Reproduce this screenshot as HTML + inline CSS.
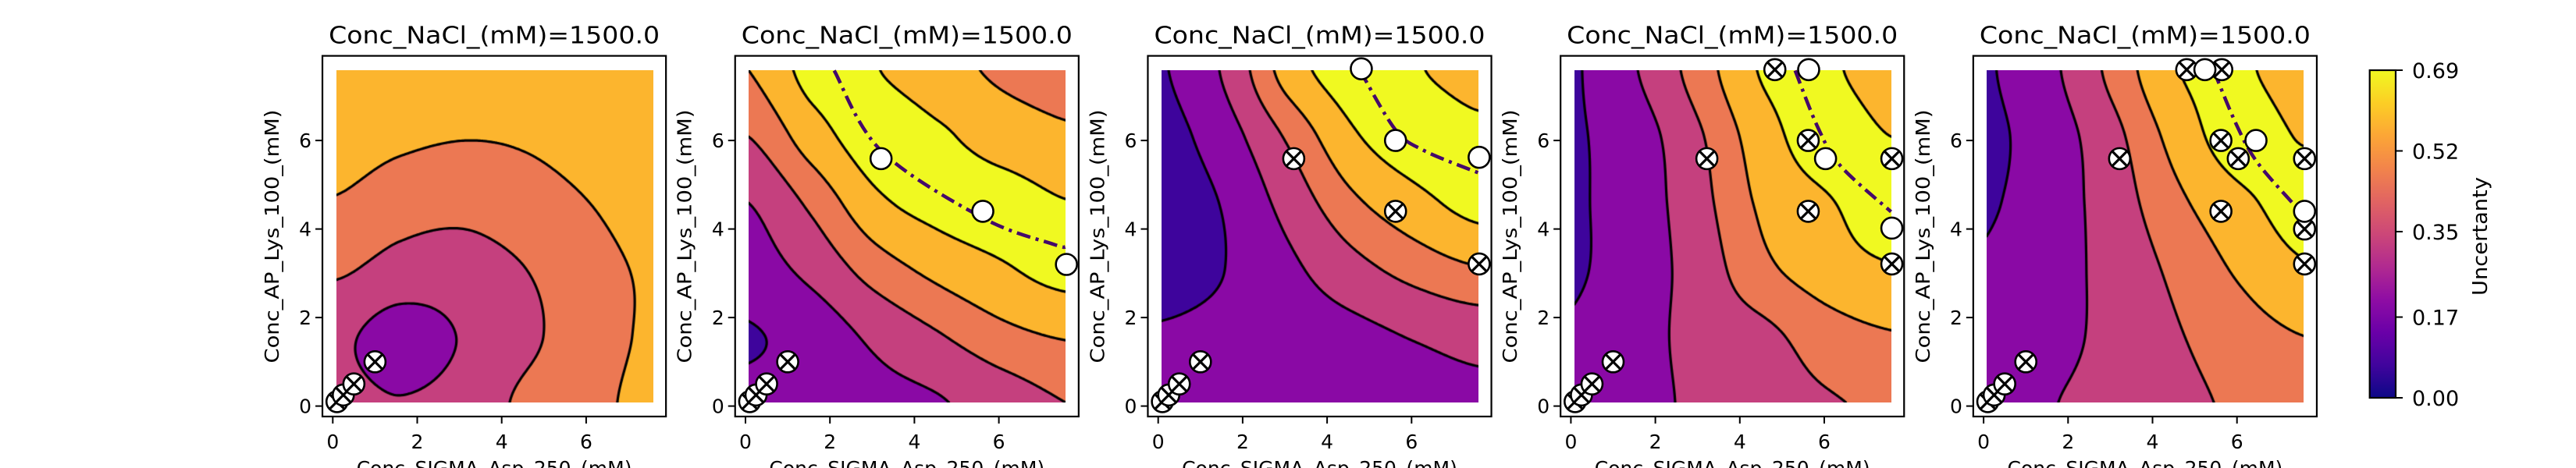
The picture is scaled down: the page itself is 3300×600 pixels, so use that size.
<!DOCTYPE html>
<html><head><meta charset="utf-8"><style>
html,body{margin:0;padding:0;background:#fff;}
#root{position:relative;width:3300px;height:600px;overflow:hidden;background:#fff;font-family:"DejaVu Sans","Liberation Sans",sans-serif;}
canvas{position:absolute;}
svg{position:absolute;left:0;top:0;}
</style></head><body>
<div id="root">
<svg id="ov" width="3300" height="600"></svg>
</div>
<script>
// ---- data ----
const gridCoords=[0.08,1.58,3.08,4.58,6.08,7.58];
const levels=[0.13,0.26,0.40,0.53,0.66];
const levelLabels=["0.13","0.26","0.40","0.53","0.66"];
const bandColors=["#3e049c","#8a09a5","#c5407e","#ec7853","#fcb52e","#f0f921"];
const xTicks=[0,2,4,6];
const yTicks=[0,2,4,6];
const cbTicks=[0,0.17,0.35,0.52,0.69];
const cbTickLabels=["0.00","0.17","0.35","0.52","0.69"];
const cbMax=0.69;
// field grids: rows = y (bottom->top), cols = x (left->right)
const field1=[[0.30,0.265,0.31,0.43,0.50,0.56],[0.29,0.20,0.27,0.37,0.48,0.545],[0.42,0.35,0.34,0.40,0.49,0.545],[0.52,0.46,0.44,0.48,0.53,0.58],[0.59,0.555,0.535,0.545,0.58,0.625],[0.64,0.615,0.60,0.605,0.625,0.655]];
const field2=[[0.16,0.19,0.22,0.25,0.33,0.40],[0.12,0.18,0.29,0.39,0.49,0.54],[0.20,0.30,0.46,0.57,0.645,0.70],[0.26,0.43,0.63,0.70,0.71,0.665],[0.40,0.60,0.72,0.68,0.60,0.55],[0.53,0.70,0.665,0.58,0.51,0.49]];
const field3=[[0.16,0.17,0.18,0.19,0.21,0.23],[0.14,0.16,0.19,0.22,0.27,0.31],[0.09,0.13,0.23,0.35,0.45,0.52],[0.08,0.14,0.31,0.50,0.62,0.70],[0.09,0.20,0.42,0.64,0.72,0.69],[0.12,0.28,0.59,0.72,0.67,0.61]];
const field4=[[0.15,0.20,0.30,0.35,0.39,0.42],[0.14,0.20,0.32,0.37,0.47,0.52],[0.12,0.19,0.33,0.50,0.60,0.65],[0.12,0.19,0.36,0.56,0.65,0.72],[0.12,0.20,0.39,0.61,0.72,0.66],[0.12,0.26,0.47,0.675,0.68,0.58]];
const field5=[[0.17,0.25,0.32,0.37,0.42,0.46],[0.15,0.20,0.31,0.39,0.47,0.53],[0.14,0.20,0.31,0.43,0.55,0.645],[0.12,0.19,0.33,0.50,0.63,0.71],[0.11,0.19,0.36,0.58,0.72,0.65],[0.12,0.23,0.44,0.655,0.68,0.58]];
const fields=[field1,field2,field3,field4,field5];
// sampled points
const lowX=[0.1,0.25,0.5,1.0];
const lowY=[0.1,0.25,0.5,1.0];
const crossX2=[],crossY2=[];
const crossX3=[3.21,5.62,7.6], crossY3=[5.59,4.40,3.21];
const crossX4=[4.83,5.62,3.22,7.6,5.62,7.6], crossY4=[7.6,6.0,5.59,5.59,4.40,3.21];
const crossX5=[4.81,5.64,5.62,6.03,7.6,3.22,5.62,7.6,7.6], crossY5=[7.6,7.6,6.0,5.59,5.59,5.59,4.40,4.0,3.21];
const openX2=[3.21,5.62,7.6], openY2=[5.59,4.40,3.2];
const openX3=[4.81,5.62,7.6], openY3=[7.62,6.0,5.62];
const openX4=[5.63,6.03,7.6], openY4=[7.6,5.59,4.02];
const openX5=[5.24,6.45,7.6], openY5=[7.6,6.0,4.4];
const ridgeX2=[2.10,3.21,5.62,7.31,7.58], ridgeY2=[7.58,5.77,4.25,3.65,3.6];
const ridgeX3=[4.78,5.62,6.30,7.58], ridgeY3=[7.58,6.24,5.77,5.27];
const ridgeX4=[5.31,5.86,6.39,7.58], ridgeY4=[7.58,6.27,5.42,4.39];
const ridgeX5=[5.45,5.99,6.47,7.34,7.58], ridgeY5=[7.58,6.35,5.52,4.56,4.3];
const crossXs=[[],crossX2,crossX3,crossX4,crossX5], crossYs=[[],crossY2,crossY3,crossY4,crossY5];
const openXs=[[],openX2,openX3,openX4,openX5], openYs=[[],openY2,openY3,openY4,openY5];
const ridgeXs=[null,ridgeX2,ridgeX3,ridgeX4,ridgeX5], ridgeYs=[null,ridgeY2,ridgeY3,ridgeY4,ridgeY5];

// ---- layout ----
const PANEL_DX=528.7, X0=426.3, UX=54.1, Y0=520.6, UY=56.75;
const DMIN=0.08, DMAX=7.58;
function px(k,x){return X0+PANEL_DX*k+UX*x;}
function py(y){return Y0-UY*y;}
const NS="http://www.w3.org/2000/svg";
const ov=document.getElementById('ov');
const root=document.getElementById('root');
function mk(tag,attrs,parent){const e=document.createElementNS(NS,tag);for(const a in attrs)e.setAttribute(a,attrs[a]);(parent||ov).appendChild(e);return e;}

function cub(p0,p1,p2,p3,t){return p1+0.5*t*(p2-p0+t*(2*p0-5*p1+4*p2-p3+t*(3*(p1-p2)+p3-p0)));}
function sample(F,x,y){
  const n=gridCoords.length, step=gridCoords[1]-gridCoords[0];
  let fx=(x-gridCoords[0])/step, fy=(y-gridCoords[0])/step;
  let i=Math.max(0,Math.min(n-2,Math.floor(fx))), j=Math.max(0,Math.min(n-2,Math.floor(fy)));
  const tx=fx-i, ty=fy-j;
  const cl=v=>Math.max(0,Math.min(n-1,v));
  const r=[];
  for(let jj=j-1;jj<=j+2;jj++){const row=F[cl(jj)];r.push(cub(row[cl(i-1)],row[cl(i)],row[cl(i+1)],row[cl(i+2)],tx));}
  return cub(r[0],r[1],r[2],r[3],ty);
}
function hex(c){return [parseInt(c.substr(1,2),16),parseInt(c.substr(3,2),16),parseInt(c.substr(5,2),16)];}
const bandRGB=bandColors.map(hex);

for(let k=0;k<5;k++){
  const F=fields[k];
  const g=mk('g',{});
  
  
  const L=Math.round(px(k,DMIN)), T=Math.round(py(DMAX));
  const W=Math.round(UX*(DMAX-DMIN)), H=Math.round(UY*(DMAX-DMIN));
  const cv=document.createElement('canvas');
  cv.width=W;cv.height=H;cv.style.left=L+'px';cv.style.top=T+'px';
  
  
  root.insertBefore(cv,ov);
  const ctx=cv.getContext('2d');
  const img=ctx.createImageData(W,H);
  for(let cy=0;cy<H;cy++)for(let cx=0;cx<W;cx++){
    const x=DMIN+(cx+0.5)/UX, y=DMAX-(cy+0.5)/UY;
    const v=sample(F,x,y);
    let b=0;for(const l of levels)if(v>=l)b++;
    const c=bandRGB[b], o=(cy*W+cx)*4;
    img.data[o]=c[0];img.data[o+1]=c[1];img.data[o+2]=c[2];img.data[o+3]=255;
  }
  ctx.putImageData(img,0,0);
  const N=160, hs=(DMAX-DMIN)/N;
  const V=[];
  for(let j=0;j<=N;j++){V.push([]);for(let i=0;i<=N;i++)V[j].push(sample(F,DMIN+i*hs,DMIN+j*hs));}
  ctx.strokeStyle='#000';ctx.lineWidth=3.2;ctx.lineCap='round';
  const toC=(x,y)=>[(x-DMIN)*UX,(DMAX-y)*UY];
  ctx.beginPath();
  for(const l of levels){
    for(let j=0;j<N;j++)for(let i=0;i<N;i++){
      const a=V[j][i],b=V[j][i+1],c=V[j+1][i+1],d=V[j+1][i];
      const x0=DMIN+i*hs,y0=DMIN+j*hs,x1=x0+hs,y1=y0+hs;
      const pts=[];
      if((a<l)!==(b<l)){const t=(l-a)/(b-a);pts.push([x0+t*hs,y0]);}
      if((b<l)!==(c<l)){const t=(l-b)/(c-b);pts.push([x1,y0+t*hs]);}
      if((c<l)!==(d<l)){const t=(l-c)/(d-c);pts.push([x1-t*hs,y1]);}
      if((d<l)!==(a<l)){const t=(l-d)/(a-d);pts.push([x0,y1-t*hs]);}
      for(let p=0;p+1<pts.length;p+=2){const A=toC(pts[p][0],pts[p][1]),B=toC(pts[p+1][0],pts[p+1][1]);ctx.moveTo(A[0],A[1]);ctx.lineTo(B[0],B[1]);}
    }
  }
  ctx.stroke();

  const fl=px(k,-0.245), fr=px(k,7.89), ft=71.6, fb=534;
  const fr_=mk('rect',{x:fl,y:ft,width:fr-fl,height:fb-ft,fill:'none',stroke:'#000','stroke-width':2.2},g);
  
  
  xTicks.forEach(t=>{
    const x=px(k,t);
    const tl=mk('line',{x1:x,y1:fb,x2:x,y2:fb+9,stroke:'#000','stroke-width':2},g);
    
    
    const tx=mk('text',{x:x,y:575,'font-size':25,'text-anchor':'middle',fill:'#000'},g);
    tx.textContent=String(t);
    
    
  });
  yTicks.forEach(t=>{
    const y=py(t);
    const tl=mk('line',{x1:fl-9,y1:y,x2:fl,y2:y,stroke:'#000','stroke-width':2},g);
    
    
    const tx=mk('text',{x:fl-14,y:y+9,'font-size':25,'text-anchor':'end',fill:'#000'},g);
    tx.textContent=String(t);
    
    
  });
  const cxm=(fl+fr)/2;
  const title=mk('text',{x:cxm,y:55.5,'font-size':30,'text-anchor':'middle',fill:'#000',textLength:424,lengthAdjust:'spacingAndGlyphs'},g);
  title.textContent='Conc_NaCl_(mM)=1500.0';
  
  
  const xl=mk('text',{x:cxm,y:609,'font-size':25,'text-anchor':'middle',fill:'#000'},g);
  xl.textContent='Conc_SIGMA_Asp_250_(mM)';
  
  
  const ylx=fl-56;
  const yl=mk('text',{x:ylx,y:303,'font-size':25,'text-anchor':'middle',fill:'#000',transform:'rotate(-90 '+ylx+' 303)',textLength:325,lengthAdjust:'spacingAndGlyphs'},g);
  yl.textContent='Conc_AP_Lys_100_(mM)';
  
  

  if(ridgeXs[k]){
    const rx=ridgeXs[k], ry=ridgeYs[k];
    const P=rx.map((x,i)=>[px(k,x),py(ry[i])]);
    let d='M'+P[0][0]+','+P[0][1];
    for(let i=0;i<P.length-1;i++){
      const p0=P[Math.max(0,i-1)],p1=P[i],p2=P[i+1],p3=P[Math.min(P.length-1,i+2)];
      const c1=[p1[0]+(p2[0]-p0[0])/6,p1[1]+(p2[1]-p0[1])/6], c2=[p2[0]-(p3[0]-p1[0])/6,p2[1]-(p3[1]-p1[1])/6];
      d+=' C'+c1[0]+','+c1[1]+' '+c2[0]+','+c2[1]+' '+p2[0]+','+p2[1];
    }
    const rl=mk('path',{d:d,fill:'none',stroke:'#45096a','stroke-width':4.5,'stroke-dasharray':'18,7,4,7'},g);
    
    
  }
  function crossMarker(x,y){
    const cx=px(k,x),cy=py(y),r=13.5,q=r*0.72;
    const m=mk('g',{},g);
    
    
    mk('circle',{cx:cx,cy:cy,r:r,fill:'#fff',stroke:'#000','stroke-width':2.6},m);
    mk('line',{x1:cx-q,y1:cy-q,x2:cx+q,y2:cy+q,stroke:'#000','stroke-width':3.2},m);
    mk('line',{x1:cx-q,y1:cy+q,x2:cx+q,y2:cy-q,stroke:'#000','stroke-width':3.2},m);
  }
  function openMarker(x,y){
    const c=mk('circle',{cx:px(k,x),cy:py(y),r:13.5,fill:'#fff',stroke:'#000','stroke-width':2.6},g);
    
    
  }
  lowX.forEach((x,i)=>crossMarker(x,lowY[i]));
  crossXs[k].forEach((x,i)=>crossMarker(x,crossYs[k][i]));
  openXs[k].forEach((x,i)=>openMarker(x,openYs[k][i]));
}

// ---- colorbar ----
const cb=mk('g',{});


const defs=mk('defs',{},cb);
const lg=mk('linearGradient',{id:'plasma',x1:0,y1:1,x2:0,y2:0},defs);
const plasma=["#0d0887","#41049d","#6a00a8","#8f0da4","#b12a90","#cc4778","#e16462","#f2844b","#fca636","#fcce25","#f0f921"];
plasma.forEach((c,i)=>mk('stop',{offset:i/10,'stop-color':c},lg));
const CBL=3035.7,CBR=3069,CBT=90,CBB=510;
mk('rect',{x:CBL,y:CBT,width:CBR-CBL,height:CBB-CBT,fill:'url(#plasma)',stroke:'#000','stroke-width':2.2},cb);
cbTicks.forEach((t,i)=>{
  const y=CBB-(CBB-CBT)*t/cbMax;
  const tl=mk('line',{x1:CBR,y1:y,x2:CBR+9,y2:y,stroke:'#000','stroke-width':2},cb);
  
  
  const tx=mk('text',{x:3090,y:y+10,'font-size':27,fill:'#000'},cb);
  tx.textContent=cbTickLabels[i];
  
  
});
const ul=mk('text',{x:3186,y:303,'font-size':26,'text-anchor':'middle',fill:'#000',transform:'rotate(-90 3186 303)',textLength:152,lengthAdjust:'spacingAndGlyphs'},cb);
ul.textContent='Uncertanty';


</script>
</body></html>
